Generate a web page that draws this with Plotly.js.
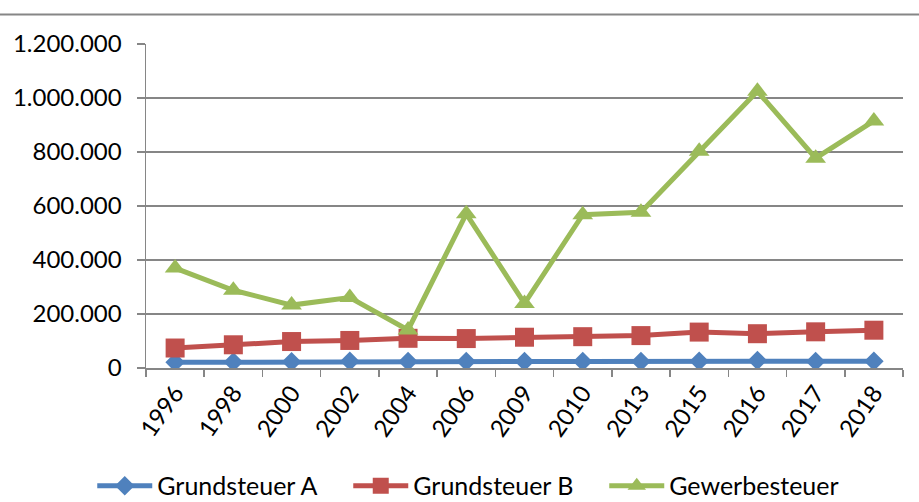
<!DOCTYPE html>
<html><head><meta charset="utf-8">
<script src="https://cdn.plot.ly/plotly-3.0.1.min.js"></script>
<style>html,body{margin:0;padding:0;background:#fff;overflow:hidden}#chart{width:919px;height:502px}</style>
</head><body><div id="chart"></div>
<script>
const years = ['1996','1998','2000','2002','2004','2006','2009','2010','2013','2015','2016','2017','2018'];
const grundsteuerA = [21000,22000,23000,25000,24000,24000,24000,24000,24000,25000,28000,24000,25000];
const grundsteuerB = [74000,86000,98000,102000,110000,109000,114000,116000,120000,133000,127000,134000,140000];
const gewerbesteuer = [370000,288000,233000,261000,141000,571000,239000,568000,577000,803000,1025000,777000,915000];
const seriesNames = ['Grundsteuer A','Grundsteuer B','Gewerbesteuer'];

const font = 'Lato, "Open Sans", sans-serif';
const traces = [
  {x: years, y: grundsteuerA, name: seriesNames[0], mode: 'lines+markers', type: 'scatter',
   line: {color: '#4F81BD', width: 5}, marker: {symbol: 'diamond', size: 15, color: '#4F81BD'}},
  {x: years, y: grundsteuerB, name: seriesNames[1], mode: 'lines+markers', type: 'scatter',
   line: {color: '#C0504D', width: 5}, marker: {symbol: 'square', size: 19, color: '#C0504D'}},
  {x: years, y: gewerbesteuer, name: seriesNames[2], mode: 'lines+markers', type: 'scatter',
   line: {color: '#9BBB59', width: 5}, marker: {symbol: 'triangle-up', size: 18, color: '#9BBB59'}}
];
const layout = {
  width: 919, height: 502,
  margin: {l: 146, r: 16, t: 43.5, b: 134, pad: 0, autoexpand: false},
  paper_bgcolor: '#fff', plot_bgcolor: '#fff',
  separators: ',.',
  font: {family: font, size: 24, color: '#000'},
  showlegend: true,
  legend: {orientation: 'h', xref: 'paper', yref: 'paper', x: -0.071, xanchor: 'left', y: -0.364, yanchor: 'middle',
           font: {family: font, size: 25, color: '#000'}, itemwidth: 55, entrywidth: 186, tracegroupgap: 0},
  xaxis: {type: 'category', range: [-0.5, 12.5], tickangle: -55, showgrid: false, zeroline: false, automargin: false,
          showline: true, linecolor: '#868686', linewidth: 1.5,
          ticks: 'outside', tickson: 'boundaries', ticklen: 7, tickcolor: '#868686', tickwidth: 1.5,
          tickfont: {family: font, size: 24, color: '#000'}, fixedrange: true},
  yaxis: {range: [0, 1200000], dtick: 200000, tickformat: ',d', showgrid: true, gridcolor: '#868686', gridwidth: 1.5,
          zeroline: false, showline: true, linecolor: '#868686', linewidth: 1.5, automargin: false,
          ticks: 'outside', ticklen: 8, tickcolor: '#868686', tickwidth: 1.5,
          ticklabelstandoff: 10,
          tickfont: {family: font, size: 24, color: '#000'}, fixedrange: true},
  shapes: [{type: 'line', xref: 'paper', yref: 'paper', x0: -0.2, x1: 1.03, y0: 1.0909, y1: 1.0909,
            line: {color: '#868686', width: 2}}]
};
Plotly.newPlot('chart', traces, layout, {displayModeBar: false, staticPlot: true});
</script></body></html>
